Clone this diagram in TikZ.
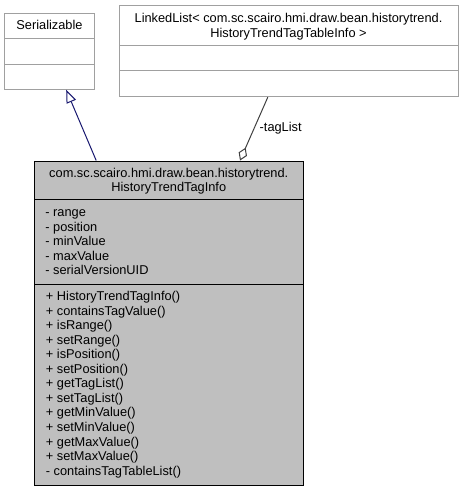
\documentclass[tikz,border=0pt]{standalone}
\usepackage{fontspec}
\setmainfont{Liberation Sans}
\usetikzlibrary{positioning, shapes, arrows.meta, calc}

\definecolor{edgegray}{HTML}{A0A0A0}
\definecolor{classfill}{HTML}{BFBFBF}
\definecolor{inhblue}{HTML}{191970}
\definecolor{aggrgray}{HTML}{404040}

\tikzset{
  whitebox/.style={draw=edgegray, fill=white, rectangle, inner sep=0pt, line width=1pt},
  mainbox/.style={draw=black, fill=classfill, rectangle, inner sep=0pt, line width=1pt},
  umltext/.style={font=\fontsize{12.8}{14.55}\selectfont, inner sep=0pt, text=black},
}

\begin{document}
\begin{tikzpicture}[x=1pt, y=-1pt]
        \useasboundingbox (0,0) rectangle (463,492);

        % Draw the class boxes
        \node[whitebox, minimum width=89.6pt, minimum height=76pt] (ser) at (49.5,51.3) {};
        \node[whitebox, minimum width=339pt, minimum height=91.4pt] (linked) at (288.5,51) {};
        \node[mainbox, minimum width=268.5pt, minimum height=324.5pt] (main) at (168.75,323.25) {};

        % Draw the compartments
        \draw[edgegray, line width=1pt] (4.7,38.7) -- (94.3,38.7) (4.7,64.3) -- (94.3,64.3);
        \draw[edgegray, line width=1pt] (119,45.7) -- (458,45.7) (119,70.7) -- (458,70.7);
        \draw[black, line width=1pt] (34.5,199.5) -- (303,199.5) (34.5,284) -- (303,284);

        % Class names
        \node[umltext, anchor=base] (sername) at (49.5,29.3) {Serializable};
        \node[umltext, anchor=base] (linkedname) at (288.5,23) {LinkedList< com.sc.scairo.hmi.draw.bean.historytrend.};
        \node[umltext, anchor=base] (linkedarg) at (288.5,37.3) {HistoryTrendTagTableInfo >};
        \node[umltext, anchor=base] (mainpkg) at (168.75,177.3) {com.sc.scairo.hmi.draw.bean.historytrend.};
        \node[umltext, anchor=base] (mainname) at (168.75,191) {HistoryTrendTagInfo};

        % Attributes
        \foreach \name [count=\i from 0] in {range, position, minValue, maxValue, serialVersionUID}
          \node[umltext, anchor=base west] (attr\i) at (45.2,216.7+14.55*\i) {- \name};

        % Operations
        \foreach \name [count=\i from 0] in {+ HistoryTrendTagInfo(), + containsTagValue(), + isRange(),
            + setRange(), + isPosition(), + setPosition(), + getTagList(), + setTagList(),
            + getMinValue(), + setMinValue(), + getMaxValue(), + setMaxValue(), - containsTagTableList()}
          \node[umltext, anchor=base west] (op\i) at (45.7,300.7+14.53*\i) {\name};

        % Draw the relations
        \draw[inhblue, line width=1pt, -{Triangle[length=13pt, width=10pt, fill=white]}]
          ($(main.north west)+(62.2,0)$) -- ($(ser.south west)+(62,0)$);
        \draw[aggrgray, line width=1pt, {Diamond[length=14pt, width=9pt, fill=white]}-]
          ($(main.north west)+(206,0)$) -- ($(linked.south west)+(149.3,0)$)
          node[umltext, pos=0.51, anchor=west, xshift=5pt] (role) {-tagList};
    \end{tikzpicture}
\end{document}
